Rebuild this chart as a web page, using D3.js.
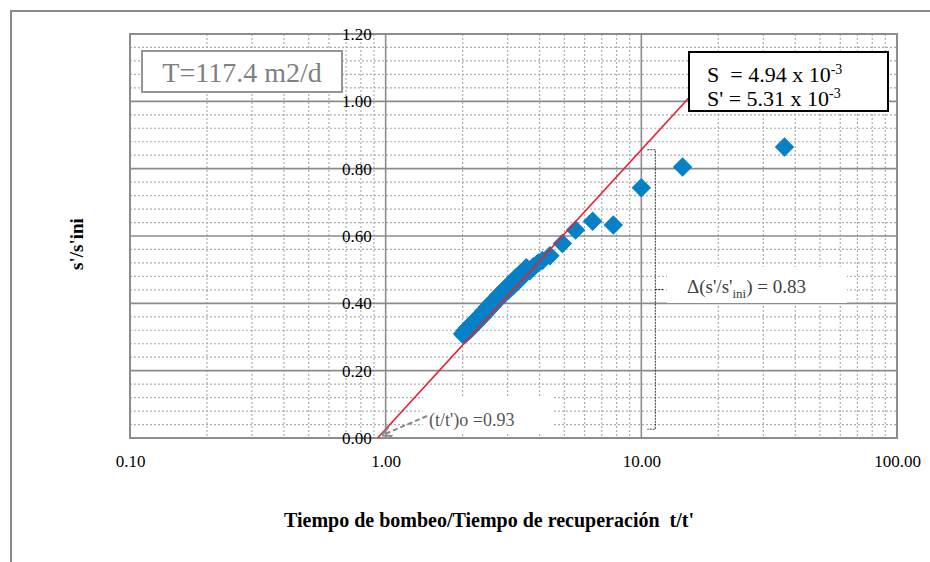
<!DOCTYPE html>
<html>
<head>
<meta charset="utf-8">
<script src="https://cdn.jsdelivr.net/npm/d3@7"></script>
<style>
  body { margin: 0; background: #fff; }
  svg text { font-family: "Liberation Serif", "Times New Roman", serif; }
</style>
</head>
<body>
<div id="plot-container"></div>
<script>
// t/t' and s'/s'ini
const tRatio = [2.00, 2.02, 2.05, 2.07, 2.10, 2.13, 2.16, 2.19, 2.22, 2.25,
                2.28, 2.31, 2.35, 2.38, 2.42, 2.46, 2.50, 2.54, 2.58, 2.62,
                2.66, 2.71, 2.76, 2.81, 2.86, 2.92, 2.98, 3.04, 3.10, 3.17,
                3.24, 3.31, 3.39, 3.47, 3.55, 3.66, 3.78, 3.95, 4.10, 4.39,
                4.91, 5.53, 6.45, 7.77, 10.0, 14.5, 36.3];
const sRatio = [0.310, 0.305, 0.320, 0.312, 0.328, 0.320, 0.338, 0.330, 0.347, 0.339,
                0.356, 0.348, 0.366, 0.358, 0.377, 0.370, 0.389, 0.382, 0.400, 0.393,
                0.411, 0.405, 0.424, 0.417, 0.436, 0.429, 0.449, 0.441, 0.462, 0.454,
                0.477, 0.468, 0.491, 0.484, 0.506, 0.497, 0.509, 0.520, 0.527, 0.541,
                0.578, 0.618, 0.644, 0.633, 0.743, 0.805, 0.864];

const xTicks = [0.1, 1, 10, 100];
const yTicks = [0, 0.2, 0.4, 0.6, 0.8, 1.0, 1.2];

// fitted straight line (Cooper-Jacob recovery)
const t0 = 0.93;          // (t/t')o
const deltaS = 0.83;      // change per log cycle
const lineEnd = 16.5;     // line runs under the S box

const W = 930, H = 562;
const plot = {left: 130, right: 897, top: 34, bottom: 438};

const svg = d3.select("#plot-container")
  .append("svg")
    .attr("width", W)
    .attr("height", H);

// outer chart frame (cut off at right and bottom)
svg.append("path")
  .attr("d", `M11,${H + 5} L11,11 L${W + 5},11`)
  .attr("fill", "none")
  .attr("stroke", "#8a8a8a")
  .attr("stroke-width", 2);

const x = d3.scaleLog().domain([0.1, 100]).range([plot.left, plot.right]);
const y = d3.scaleLinear().domain([0, 1.2]).range([plot.bottom, plot.top]);

// minor grid
const xMinor = x.ticks().filter(v => Math.abs(Math.log10(v) - Math.round(Math.log10(v))) > 1e-6);
const yMinor = d3.range(0.04, 1.2, 0.04).filter(v => Math.abs(v / 0.2 - Math.round(v / 0.2)) > 1e-6);

const grid = svg.append("g");
grid.selectAll(".xminor")
  .data(xMinor)
  .enter().append("line")
    .attr("x1", d => x(d)).attr("x2", d => x(d))
    .attr("y1", plot.top).attr("y2", plot.bottom)
    .attr("stroke", "#adadad")
    .attr("stroke-width", 1.2)
    .attr("stroke-dasharray", "2,2");
grid.selectAll(".yminor")
  .data(yMinor)
  .enter().append("line")
    .attr("x1", plot.left).attr("x2", plot.right)
    .attr("y1", d => y(d)).attr("y2", d => y(d))
    .attr("stroke", "#adadad")
    .attr("stroke-width", 1.2)
    .attr("stroke-dasharray", "2,2");

// major grid
grid.selectAll(".xmajor")
  .data(xTicks.slice(1, -1))
  .enter().append("line")
    .attr("x1", d => x(d)).attr("x2", d => x(d))
    .attr("y1", plot.top).attr("y2", plot.bottom)
    .attr("stroke", "#8c8c8c")
    .attr("stroke-width", 1.6);
grid.selectAll(".ymajor")
  .data(yTicks.slice(1, -1))
  .enter().append("line")
    .attr("x1", plot.left).attr("x2", plot.right)
    .attr("y1", d => y(d)).attr("y2", d => y(d))
    .attr("stroke", "#8c8c8c")
    .attr("stroke-width", 1.6);

// plot border
svg.append("rect")
  .attr("x", plot.left).attr("y", plot.top)
  .attr("width", plot.right - plot.left)
  .attr("height", plot.bottom - plot.top)
  .attr("fill", "none")
  .attr("stroke", "#8c8c8c")
  .attr("stroke-width", 2);

// white label backgrounds that hide the grid
svg.append("rect").attr("x", 667).attr("y", 267).attr("width", 180).attr("height", 36).attr("fill", "#fff");
svg.append("rect").attr("x", 423).attr("y", 396).attr("width", 130).attr("height", 36).attr("fill", "#fff");

// axes
const yAxis = svg.append("g")
  .attr("transform", `translate(${x(1)},0)`)
  .call(d3.axisLeft(y).tickValues(yTicks).tickFormat(d3.format(".2f")).tickSize(0).tickPadding(14));
yAxis.select(".domain").remove();
yAxis.selectAll("text")
  .attr("font-size", 17)
  .attr("fill", "#000")
  .style("font-family", '"Liberation Serif", "Times New Roman", serif');

const xAxis = svg.append("g")
  .attr("transform", `translate(0,${plot.bottom})`)
  .call(d3.axisBottom(x).tickValues(xTicks).tickFormat(d3.format(".2f")).tickSize(0).tickPadding(17));
xAxis.select(".domain").remove();
xAxis.selectAll("text")
  .attr("font-size", 17)
  .attr("fill", "#000")
  .style("font-family", '"Liberation Serif", "Times New Roman", serif');

// bracket for one log cycle
const bx = x(10) + 14;
const bTop = y(deltaS * Math.log10(10 / t0));
const bBot = y(deltaS * Math.log10(10 / t0) - deltaS);
svg.append("path")
  .attr("d", `M${bx - 8},${bTop} L${bx},${bTop} L${bx},${bBot} L${bx - 8},${bBot} M${bx},${(bTop + bBot) / 2} L${bx + 8},${(bTop + bBot) / 2}`)
  .attr("fill", "none")
  .attr("stroke", "#333")
  .attr("stroke-width", 1)
  .attr("stroke-dasharray", "2,1");

// points
const pts = tRatio.map((t, i) => ({t: t, s: sRatio[i]}));
svg.selectAll(".pt")
  .data(pts)
  .enter().append("path")
    .attr("d", d3.symbol(d3.symbolSquare, 190))
    .attr("transform", d => `translate(${x(d.t)},${y(d.s)}) rotate(45)`)
    .attr("fill", "#0680c6");

// fitted line, drawn over the points
svg.append("line")
  .attr("x1", x(t0)).attr("y1", y(0))
  .attr("x2", x(lineEnd)).attr("y2", y(deltaS * Math.log10(lineEnd / t0)))
  .attr("stroke", "#e8202f")
  .attr("stroke-width", 1.6);

// arrow to (t/t')o
svg.append("defs").append("marker")
  .attr("id", "arr")
  .attr("viewBox", "0 0 10 10")
  .attr("refX", 9).attr("refY", 5)
  .attr("markerWidth", 5).attr("markerHeight", 5)
  .attr("orient", "auto")
  .append("path")
    .attr("d", "M0,0 L10,5 L0,10")
    .attr("fill", "none")
    .attr("stroke", "#888")
    .attr("stroke-width", 2);
svg.append("line")
  .attr("x1", 427).attr("y1", 416)
  .attr("x2", x(t0) + 5).attr("y2", y(0) - 3)
  .attr("stroke", "#888")
  .attr("stroke-width", 2)
  .attr("stroke-dasharray", "5,3")
  .attr("marker-end", "url(#arr)");

svg.append("text")
  .attr("x", 429).attr("y", 426)
  .attr("font-size", 18)
  .attr("fill", "#555")
  .text("(t/t')o =0.93");

// delta label
const dl = svg.append("text")
  .attr("x", 687).attr("y", 293)
  .attr("font-size", 19)
  .attr("fill", "#404040");
dl.append("tspan").text("\u0394(s'/s'");
dl.append("tspan").attr("font-size", 13).attr("dy", 5).text("ini");
dl.append("tspan").attr("dy", -5).text(") = 0.83");

// T box
svg.append("rect")
  .attr("x", 142).attr("y", 51).attr("width", 200).attr("height", 41)
  .attr("fill", "#fff")
  .attr("stroke", "#8a8a8a")
  .attr("stroke-width", 1.8);
svg.append("text")
  .attr("x", 242).attr("y", 82)
  .attr("text-anchor", "middle")
  .attr("font-size", 28)
  .attr("fill", "#808080")
  .text("T=117.4 m2/d");

// S box
svg.append("rect")
  .attr("x", 689).attr("y", 52).attr("width", 199).attr("height", 59)
  .attr("fill", "#fff")
  .attr("stroke", "#000")
  .attr("stroke-width", 2);
const s1 = svg.append("text")
  .attr("x", 707).attr("y", 82)
  .attr("font-size", 22)
  .style("white-space", "pre");
s1.append("tspan").text("S  = 4.94 x 10");
s1.append("tspan").attr("font-size", 14).attr("dy", -8).text("-3");
const s2 = svg.append("text")
  .attr("x", 707).attr("y", 106)
  .attr("font-size", 22)
  .style("white-space", "pre");
s2.append("tspan").text("S' = 5.31 x 10");
s2.append("tspan").attr("font-size", 14).attr("dy", -8).text("-3");

// axis titles
svg.append("text")
  .attr("transform", "translate(83,244) rotate(-90)")
  .attr("text-anchor", "middle")
  .attr("font-size", 19)
  .attr("font-weight", "bold")
  .text("s'/s'ini");
svg.append("text")
  .attr("x", 489).attr("y", 527)
  .attr("text-anchor", "middle")
  .attr("font-size", 20)
  .attr("font-weight", "bold")
  .style("white-space", "pre")
  .text("Tiempo de bombeo/Tiempo de recuperación  t/t'");
</script>
</body>
</html>
